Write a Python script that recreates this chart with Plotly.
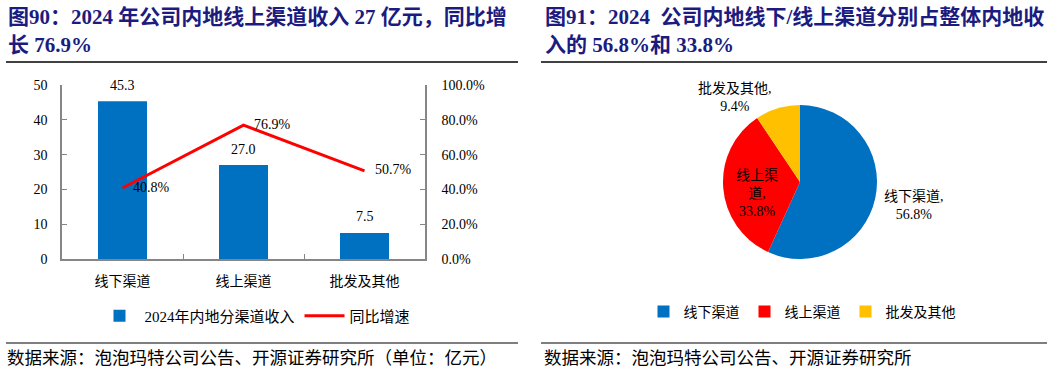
import plotly.graph_objects as go

# ---------------- data ----------------
categories = ["线下渠道", "线上渠道", "批发及其他"]
revenue_2024 = [45.3, 27.0, 7.5]          # 亿元
yoy_growth = [40.8, 76.9, 50.7]           # %
bar_name = "2024年内地分渠道收入"
line_name = "同比增速"

pie_labels = ["线下渠道", "线上渠道", "批发及其他"]
pie_shares = [56.8, 33.8, 9.4]            # %

left_y_ticks = [0, 10, 20, 30, 40, 50]
right_y_ticks = [0, 20, 40, 60, 80, 100]
right_y_ticktext = ["%.1f%%" % v for v in right_y_ticks]

title_left = ["图90：2024 年公司内地线上渠道收入 27 亿元，同比增", "长 76.9%"]
title_right = ["图91：2024  公司内地线下/线上渠道分别占整体内地收", "入的 56.8%和 33.8%"]
source_left = "数据来源：泡泡玛特公司公告、开源证券研究所（单位：亿元）"
source_right = "数据来源：泡泡玛特公司公告、开源证券研究所"

# ---------------- style ----------------
W, H = 1057, 374
FONT = "Liberation Serif, Noto Sans CJK SC, serif"
TITLE_COLOR = "#1b1b80"
AXIS_COLOR = "#868686"
BLUE = "#0070C0"
RED = "#FF0000"
YELLOW = "#FFC000"


def px(x):
    return x / W


def py(y):
    return (H - y) / H


fig = go.Figure()

fig.add_trace(go.Bar(
    x=categories, y=revenue_2024, name=bar_name,
    marker=dict(color=BLUE, line=dict(width=0)),
    width=0.405, xaxis="x", yaxis="y", legend="legend",
))
fig.add_trace(go.Scatter(
    x=categories, y=yoy_growth, name=line_name,
    mode="lines+text", line=dict(color=RED, width=3),
    text=["   %.1f%%" % v for v in yoy_growth],
    textposition="middle right",
    textfont=dict(family=FONT, size=14, color="#000000"),
    xaxis="x", yaxis="y2", legend="legend", cliponaxis=False,
))

fig.add_trace(go.Pie(
    labels=pie_labels, values=pie_shares,
    marker=dict(colors=[BLUE, RED, YELLOW], line=dict(width=0)),
    sort=False, direction="clockwise", rotation=0,
    textinfo="none", hoverinfo="label+percent",
    domain=dict(x=[px(723), px(877)], y=[py(259), py(105)]),
    legend="legend2", automargin=False,
))

annotations = []
# bar value labels
for c, v in zip(categories, revenue_2024):
    annotations.append(dict(
        x=c, y=v, xref="x", yref="y", text="%.1f" % v, showarrow=False,
        yshift=16, font=dict(family=FONT, size=14, color="#000000"),
    ))

# titles
for i, t in enumerate(title_left):
    annotations.append(dict(
        x=px(6), y=py(17 + 28 * i), xref="paper", yref="paper", text="<b>%s</b>" % t,
        showarrow=False, xanchor="left", yanchor="middle",
        font=dict(family=FONT, size=21, color=TITLE_COLOR),
    ))
for i, t in enumerate(title_right):
    annotations.append(dict(
        x=px(543), y=py(17 + 28 * i), xref="paper", yref="paper", text="<b>%s</b>" % t,
        showarrow=False, xanchor="left", yanchor="middle",
        font=dict(family=FONT, size=21, color=TITLE_COLOR),
    ))

# sources
annotations.append(dict(
    x=px(5), y=py(358), xref="paper", yref="paper", text=source_left,
    showarrow=False, xanchor="left", yanchor="middle",
    font=dict(family=FONT, size=17.5, color="#000000"),
))
annotations.append(dict(
    x=px(542), y=py(358), xref="paper", yref="paper", text=source_right,
    showarrow=False, xanchor="left", yanchor="middle",
    font=dict(family=FONT, size=17.5, color="#000000"),
))

# pie labels
pie_label_pos = [(914, 205), (757, 193), (735, 97)]
pie_texts = [
    "%s,<br>%.1f%%" % (pie_labels[0], pie_shares[0]),
    "%s<br>%s,<br>%.1f%%" % (pie_labels[1][:3], pie_labels[1][3:], pie_shares[1]),
    "%s,<br>%.1f%%" % (pie_labels[2], pie_shares[2]),
]
for (x, y), t in zip(pie_label_pos, pie_texts):
    annotations.append(dict(
        x=px(x), y=py(y), xref="paper", yref="paper", text=t,
        showarrow=False, xanchor="center", yanchor="middle", align="center",
        font=dict(family=FONT, size=14, color="#000000"),
    ))

shapes = []
for x0, x1 in [(6, 518), (541, 1047)]:
    shapes.append(dict(type="line", xref="paper", yref="paper",
                       x0=px(x0), x1=px(x1), y0=py(62), y1=py(62),
                       line=dict(color="#000000", width=1.5)))
    shapes.append(dict(type="line", xref="paper", yref="paper",
                       x0=px(x0), x1=px(x1), y0=py(343), y1=py(343),
                       line=dict(color="#555555", width=1.5)))

fig.update_layout(
    width=W, height=H,
    margin=dict(l=0, r=0, t=0, b=0, autoexpand=False),
    paper_bgcolor="white", plot_bgcolor="white",
    font=dict(family=FONT, size=14, color="#000000"),
    xaxis=dict(
        domain=[px(62), px(425)], anchor="y", automargin=False,
        showline=True, linecolor=AXIS_COLOR, linewidth=1.5,
        ticks="inside", tickson="boundaries", ticklen=5, tickcolor=AXIS_COLOR,
        showgrid=False, tickfont=dict(family=FONT, size=14),
        ticklabelstandoff=8, fixedrange=True,
    ),
    yaxis=dict(
        domain=[py(259), py(85)], anchor="x", range=[0, 50], automargin=False,
        tickvals=left_y_ticks, showline=True, linecolor=AXIS_COLOR, linewidth=1.5,
        ticks="inside", ticklen=5, tickcolor=AXIS_COLOR, showgrid=False,
        zeroline=False, tickfont=dict(family=FONT, size=14), ticklabelstandoff=10,
    ),
    yaxis2=dict(
        domain=[py(259), py(85)], anchor="x", overlaying="y", side="right",
        automargin=False,
        range=[0, 100], tickvals=right_y_ticks, ticktext=right_y_ticktext,
        showline=True, linecolor=AXIS_COLOR, linewidth=1.5,
        ticks="inside", ticklen=5, tickcolor=AXIS_COLOR, showgrid=False,
        zeroline=False, tickfont=dict(family=FONT, size=14), ticklabelstandoff=12,
    ),
    legend=dict(
        orientation="h", x=px(255), y=py(316), xanchor="center", yanchor="middle",
        xref="container", yref="container",
        font=dict(family=FONT, size=15), bgcolor="rgba(0,0,0,0)",
        itemwidth=40, traceorder="normal",
    ),
    legend2=dict(
        orientation="h", x=px(802), y=py(312), xanchor="center", yanchor="middle",
        xref="container", yref="container",
        font=dict(family=FONT, size=14), bgcolor="rgba(0,0,0,0)",
        itemwidth=30,
    ),
    annotations=annotations,
    shapes=shapes,
    showlegend=True,
)

fig.write_html(
    "out.html",
    config={"displayModeBar": False},
    post_script="document.body.style.margin='0';document.body.style.overflow='hidden';",
)
